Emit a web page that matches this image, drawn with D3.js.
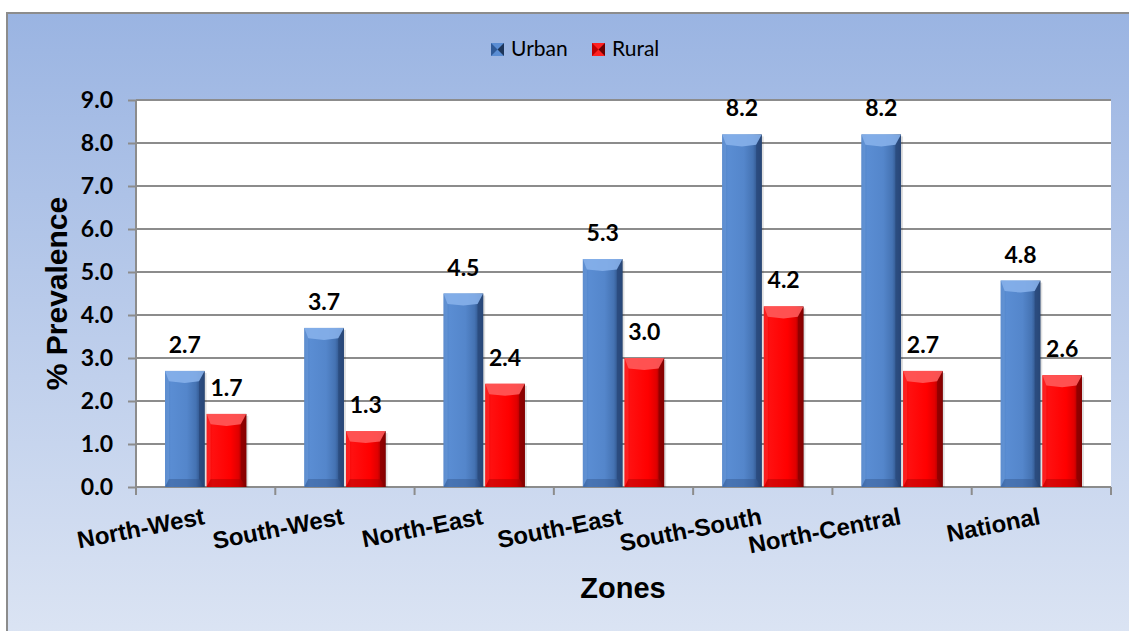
<!DOCTYPE html>
<html>
<head>
<meta charset="utf-8">
<script src="https://cdn.jsdelivr.net/npm/d3@7"></script>
<style>
  html, body { margin: 0; padding: 0; background: #ffffff; }
  svg { display: block; }
</style>
</head>
<body>
<svg id="chart" width="1129" height="631"></svg>
<script>
// Prevalence by geopolitical zone, urban vs rural
const zones = ["North-West", "South-West", "North-East", "South-East", "South-South", "North-Central", "National"];
const urban = [2.7, 3.7, 4.5, 5.3, 8.2, 8.2, 4.8];
const rural = [1.7, 1.3, 2.4, 3.0, 4.2, 2.7, 2.6];
const seriesNames = ["Urban", "Rural"];
const yTicks = [0, 1, 2, 3, 4, 5, 6, 7, 8, 9];

const W = 1129, H = 631;
const plot = { left: 136, right: 1111, top: 100, bottom: 487 };

const svg = d3.select("#chart");
const defs = svg.append("defs");

// Frame background gradient
const bg = defs.append("linearGradient").attr("id", "bgGrad")
  .attr("x1", 0).attr("y1", 0).attr("x2", 0).attr("y2", 1);
bg.append("stop").attr("offset", "0%").attr("stop-color", "#9ab4e2");
bg.append("stop").attr("offset", "100%").attr("stop-color", "#dee6f4");

// Bar body gradients (horizontal shading for a rounded look)
function bodyGrad(id, stops) {
  const g = defs.append("linearGradient").attr("id", id)
    .attr("x1", 0).attr("y1", 0).attr("x2", 1).attr("y2", 0);
  stops.forEach(([o, c]) => g.append("stop").attr("offset", o).attr("stop-color", c));
}
bodyGrad("urbanBody", [["0%", "#4a7cc0"], ["15%", "#5a8dd3"], ["55%", "#5486cb"], ["78%", "#4573b3"], ["90%", "#2f5389"], ["100%", "#1d3559"]]);
bodyGrad("ruralBody", [["0%", "#f00000"], ["15%", "#ff1010"], ["60%", "#ff0000"], ["80%", "#e00000"], ["90%", "#a80000"], ["100%", "#5a0000"]]);

svg.append("rect").attr("x", 0).attr("y", 0).attr("width", W).attr("height", H).attr("fill", "#ffffff");
svg.append("rect").attr("x", 7).attr("y", 13).attr("width", W + 20).attr("height", H + 20)
  .attr("fill", "url(#bgGrad)").attr("stroke", "#8c8c8c").attr("stroke-width", 2);

// Plot area
svg.append("rect").attr("x", plot.left).attr("y", plot.top)
  .attr("width", plot.right - plot.left).attr("height", plot.bottom - plot.top)
  .attr("fill", "#ffffff");

const x0 = d3.scaleBand().domain(zones).range([plot.left, plot.right]).padding(0);
const x1 = d3.scaleBand().domain(seriesNames).range([29, x0.bandwidth() - 29]).paddingInner(0.05);
const y = d3.scaleLinear().domain([0, 9]).range([plot.bottom, plot.top]);

// Gridlines
svg.append("g").selectAll("line").data(yTicks.slice(1)).join("line")
  .attr("x1", plot.left).attr("x2", plot.right)
  .attr("y1", d => y(d)).attr("y2", d => y(d))
  .attr("stroke", "#8c8c8c").attr("stroke-width", 1.8);

// Y axis
const yAxis = svg.append("g").attr("transform", `translate(${plot.left},0)`)
  .call(d3.axisLeft(y).tickValues(yTicks).tickFormat(d3.format(".1f")).tickSize(8).tickPadding(15));
yAxis.select(".domain").attr("stroke", "#8c8c8c").attr("stroke-width", 2).attr("d", `M0,${plot.top}V${plot.bottom}`);
yAxis.selectAll(".tick line").attr("stroke", "#8c8c8c").attr("stroke-width", 2);
yAxis.selectAll(".tick text")
  .attr("font-family", "Lato, 'Open Sans', sans-serif").attr("font-weight", "bold")
  .attr("font-size", 23).attr("fill", "#000");

// X axis: line with boundary ticks
const xAxisG = svg.append("g");
xAxisG.append("line").attr("x1", plot.left).attr("x2", plot.right)
  .attr("y1", plot.bottom).attr("y2", plot.bottom)
  .attr("stroke", "#8c8c8c").attr("stroke-width", 2);
const boundaries = zones.map(z => x0(z)).concat([plot.right]);
xAxisG.selectAll("line.b").data(boundaries).join("line").attr("class", "b")
  .attr("x1", d => d).attr("x2", d => d)
  .attr("y1", plot.bottom).attr("y2", plot.bottom + 8)
  .attr("stroke", "#8c8c8c").attr("stroke-width", 2);

// Category labels, slanted
xAxisG.selectAll("text.cat").data(zones).join("text").attr("class", "cat")
  .attr("transform", d => `translate(${x0(d) + x0.bandwidth() / 2},${plot.bottom + 37}) rotate(-11)`)
  .attr("text-anchor", "end")
  .attr("font-family", "'Liberation Sans', Arial, sans-serif").attr("font-weight", "bold")
  .attr("font-size", 24).attr("fill", "#000")
  .text(d => d);

// Beveled bar drawing
const bevelStyles = {
  Urban: { body: "url(#urbanBody)", top: "#86b0ea", left: "#6a9ad9", right: "#2a4a7c", bottom: "#2f5184" },
  Rural: { body: "url(#ruralBody)", top: "#ff5a5a", left: "#ff3030", right: "#8c0000", bottom: "#a00000" }
};

const rows = zones.map((z, i) => ({ zone: z, values: [
  { key: "Urban", value: urban[i] },
  { key: "Rural", value: rural[i] }
] }));

const groups = svg.append("g").selectAll("g").data(rows).join("g")
  .attr("transform", d => `translate(${x0(d.zone)},0)`);

groups.each(function (row) {
  const g = d3.select(this);
  row.values.forEach(v => {
    const bx = x1(v.key), bw = x1.bandwidth();
    const top = y(v.value), bot = y(0);
    const h = bot - top;
    const b = Math.min(8, h / 3);
    const s = bevelStyles[v.key];
    // soft shadow
    g.append("rect").attr("x", bx + 2).attr("y", top + 2).attr("width", bw).attr("height", h - 2)
      .attr("fill", "#000").attr("opacity", 0.12);
    g.append("rect").attr("x", bx).attr("y", top).attr("width", bw).attr("height", h).attr("fill", s.body);
    // left bevel
    g.append("polygon").attr("points", `${bx},${top} ${bx + b * 0.5},${top + b} ${bx + b * 0.5},${bot - b} ${bx},${bot}`)
      .attr("fill", s.left).attr("opacity", 0.6);
    // right bevel
    g.append("polygon").attr("points", `${bx + bw},${top} ${bx + bw - b * 0.7},${top + b} ${bx + bw - b * 0.7},${bot - b} ${bx + bw},${bot}`)
      .attr("fill", s.right).attr("opacity", 0.85);
    // bottom bevel
    g.append("polygon").attr("points", `${bx},${bot} ${bx + b * 0.5},${bot - b} ${bx + bw - b * 0.7},${bot - b} ${bx + bw},${bot}`)
      .attr("fill", s.bottom).attr("opacity", 0.4);
    // top bevel
    g.append("polygon").attr("points", `${bx},${top} ${bx + bw},${top} ${bx + bw - b * 0.7},${top + b * 1.3} ${bx + bw / 2},${top + b * 1.5} ${bx + b * 0.5},${top + b * 1.3}`)
      .attr("fill", s.top).attr("opacity", 0.9);
    // value label
    g.append("text")
      .attr("x", bx + bw / 2).attr("y", top - 18)
      .attr("text-anchor", "middle")
      .attr("font-family", "Lato, 'Open Sans', sans-serif").attr("font-weight", "bold")
      .attr("font-size", 23).attr("fill", "#000")
      .text(d3.format(".1f")(v.value));
  });
});

// Axis titles
svg.append("text")
  .attr("transform", `translate(67,${(plot.top + plot.bottom) / 2}) rotate(-90)`)
  .attr("text-anchor", "middle")
  .attr("font-family", "'Liberation Sans', Arial, sans-serif").attr("font-weight", "bold")
  .attr("font-size", 30).attr("fill", "#000")
  .text("% Prevalence");

svg.append("text")
  .attr("x", 623).attr("y", 598)
  .attr("text-anchor", "middle")
  .attr("font-family", "'Liberation Sans', Arial, sans-serif").attr("font-weight", "bold")
  .attr("font-size", 29).attr("fill", "#000")
  .text("Zones");

// Legend
const legendItems = [
  { name: "Urban", x: 491, colors: ["#2f5a97", "#5a8dd3", "#1d3559"] },
  { name: "Rural", x: 592, colors: ["#c00000", "#ff2020", "#6a0000"] }
];
const legend = svg.append("g");
legendItems.forEach(it => {
  const s = 13, ly = 43;
  legend.append("rect").attr("x", it.x).attr("y", ly).attr("width", s).attr("height", s).attr("fill", it.colors[1]);
  legend.append("polygon").attr("points", `${it.x},${ly} ${it.x + s / 2},${ly + s / 2} ${it.x},${ly + s}`).attr("fill", it.colors[0]);
  legend.append("polygon").attr("points", `${it.x + s},${ly} ${it.x + s / 2},${ly + s / 2} ${it.x + s},${ly + s}`).attr("fill", it.colors[2]);
  legend.append("text").attr("x", it.x + 20).attr("y", 56)
    .attr("font-family", "Lato, 'Open Sans', sans-serif").attr("font-size", 21).attr("fill", "#000")
    .text(it.name);
});
</script>
</body>
</html>
